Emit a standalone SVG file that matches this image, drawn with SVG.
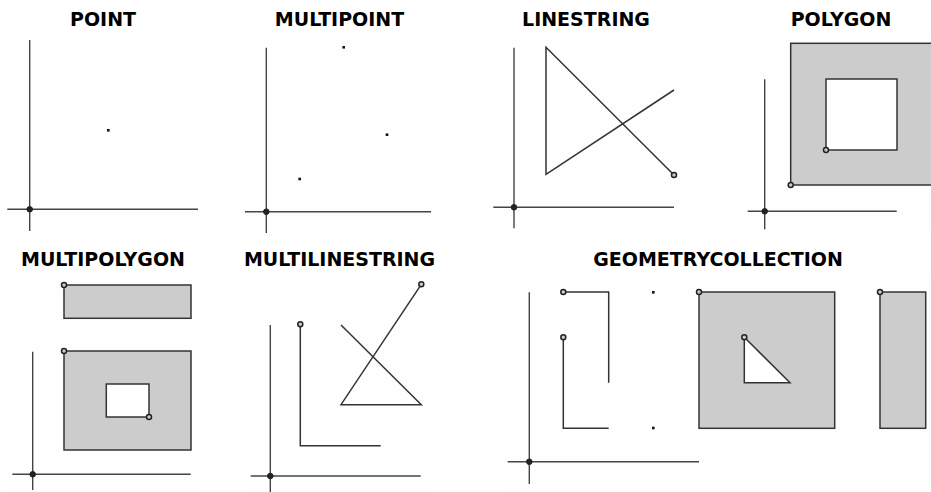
<svg xmlns="http://www.w3.org/2000/svg" width="931" height="492" viewBox="0 0 931 492">
<style>
.t{font-family:"DejaVu Sans","Verdana",sans-serif;font-weight:bold;font-size:19px;fill:#000;text-anchor:middle}
.bg{fill:#fefefe;stroke:none}
.ax{stroke:#444;stroke-width:1.4;fill:none}
.ln{stroke:#333;stroke-width:1.5;fill:none;stroke-linejoin:miter}
.pg{fill:#cccccc;stroke:#333;stroke-width:1.5}
.hole{fill:#ffffff;stroke:#333;stroke-width:1.5}
.o{fill:#222;stroke:#222;stroke-width:1}
.c{fill:#ccc;stroke:#222;stroke-width:1.5}
.pt{fill:#111}
</style>
<rect width="931" height="492" fill="#ffffff"/>

<g id="point">
<text class="t" x="103" y="26">POINT</text>
<rect class="bg" x="6" y="37" width="194" height="196"/>
<line class="ax" x1="29.7" y1="40" x2="29.7" y2="231"/>
<line class="ax" x1="7.3" y1="209.3" x2="198" y2="209.3"/>
<circle class="o" cx="29.7" cy="209.3" r="2.8"/>
<rect class="pt" x="107" y="129" width="2.6" height="2.6"/>
</g>

<g id="multipoint">
<text class="t" x="339.5" y="26">MULTIPOINT</text>
<rect class="bg" x="242" y="37" width="194" height="203"/>
<line class="ax" x1="266.3" y1="47.7" x2="266.3" y2="233"/>
<line class="ax" x1="245" y1="211.7" x2="431" y2="211.7"/>
<circle class="o" cx="266.3" cy="211.7" r="2.8"/>
<rect class="pt" x="342.4" y="46" width="2.6" height="2.6"/>
<rect class="pt" x="385.7" y="133.4" width="2.6" height="2.6"/>
<rect class="pt" x="298.4" y="177.7" width="2.6" height="2.6"/>
</g>

<g id="linestring">
<text class="t" x="586" y="26">LINESTRING</text>
<rect class="bg" x="489" y="37" width="193" height="199"/>
<line class="ax" x1="514" y1="47.7" x2="514" y2="228.3"/>
<line class="ax" x1="493.3" y1="207.3" x2="674" y2="207.3"/>
<circle class="o" cx="514" cy="207.3" r="2.8"/>
<polyline class="ln" points="674,90 546,174.3 546,47.3 674,175"/>
<circle class="c" cx="674" cy="175" r="2.5"/>
</g>

<g id="polygon">
<text class="t" x="841" y="26">POLYGON</text>
<rect class="bg" x="747" y="37" width="184" height="194"/>
<line class="ax" x1="764.7" y1="79.3" x2="764.7" y2="229.3"/>
<line class="ax" x1="747.7" y1="211.3" x2="896.7" y2="211.3"/>
<circle class="o" cx="764.7" cy="211.3" r="2.8"/>
<rect class="pg" x="790.7" y="43.3" width="145" height="141.7"/>
<rect class="hole" x="826" y="79" width="71" height="71"/>
<circle class="c" cx="790.7" cy="185" r="2.5"/>
<circle class="c" cx="826" cy="150" r="2.5"/>
</g>

<g id="multipolygon">
<text class="t" x="103" y="266">MULTIPOLYGON</text>
<rect class="bg" x="6" y="277" width="196" height="215"/>
<line class="ax" x1="32.7" y1="351.7" x2="32.7" y2="490"/>
<line class="ax" x1="12.3" y1="474.3" x2="190.7" y2="474.3"/>
<circle class="o" cx="32.7" cy="474.3" r="2.8"/>
<rect class="pg" x="64" y="285" width="127" height="33.3"/>
<rect class="pg" x="64" y="351" width="127" height="99"/>
<rect class="hole" x="106.3" y="384" width="42.7" height="33"/>
<circle class="c" cx="64" cy="285" r="2.5"/>
<circle class="c" cx="64" cy="351" r="2.5"/>
<circle class="c" cx="149" cy="417" r="2.5"/>
</g>

<g id="multilinestring">
<text class="t" x="339.5" y="266">MULTILINESTRING</text>
<rect class="bg" x="246" y="277" width="188" height="215"/>
<line class="ax" x1="270.3" y1="325" x2="270.3" y2="492"/>
<line class="ax" x1="250.7" y1="476" x2="420.7" y2="476"/>
<circle class="o" cx="270.3" cy="476" r="2.8"/>
<polyline class="ln" points="300.3,324.3 300.3,445.7 380.7,445.7"/>
<polyline class="ln" points="421.3,284.3 341,404.7 421.3,404.7 341,325"/>
<circle class="c" cx="300.3" cy="324.3" r="2.5"/>
<circle class="c" cx="421.3" cy="284.3" r="2.5"/>
</g>

<g id="geometrycollection">
<text class="t" x="718" y="266">GEOMETRYCOLLECTION</text>
<rect class="bg" x="503.5" y="277" width="427.5" height="215"/>
<line class="ax" x1="529.3" y1="292.3" x2="529.3" y2="484"/>
<line class="ax" x1="507.7" y1="461.7" x2="699" y2="461.7"/>
<circle class="o" cx="529.3" cy="461.7" r="2.8"/>
<polyline class="ln" points="563.3,292 608.7,292 608.7,382.7"/>
<polyline class="ln" points="563.3,337.3 563.3,428.3 608.7,428.3"/>
<circle class="c" cx="563.3" cy="292" r="2.5"/>
<circle class="c" cx="563.3" cy="337.3" r="2.5"/>
<rect class="pt" x="652" y="291" width="2.6" height="2.6"/>
<rect class="pt" x="652" y="426.7" width="2.6" height="2.6"/>
<rect class="pg" x="699" y="292" width="135.7" height="136.3"/>
<polygon class="hole" points="744.3,337.3 744.3,382.7 790,382.7"/>
<rect class="pg" x="880" y="292" width="45.7" height="136.3"/>
<circle class="c" cx="699" cy="292" r="2.5"/>
<circle class="c" cx="744.3" cy="337.3" r="2.5"/>
<circle class="c" cx="880" cy="292" r="2.5"/>
</g>
</svg>
